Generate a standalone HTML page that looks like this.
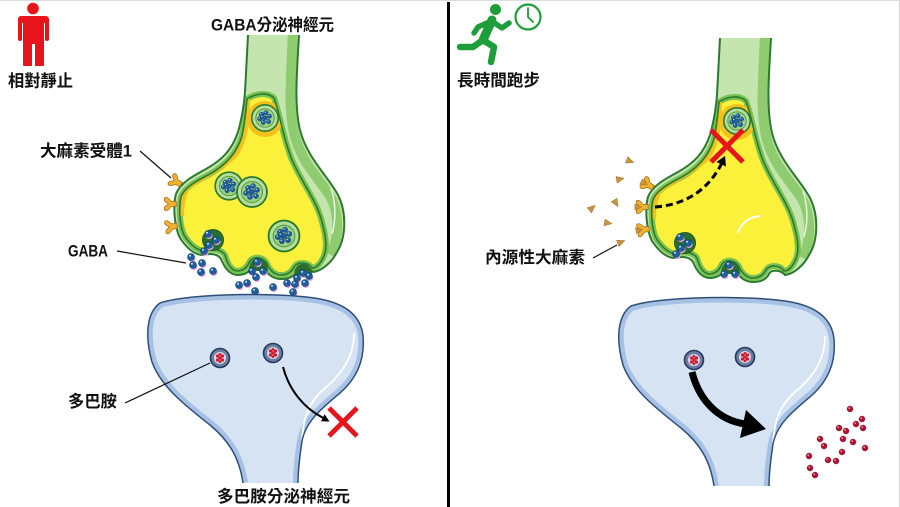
<!DOCTYPE html>
<html><head><meta charset="utf-8">
<style>
html,body{margin:0;padding:0;background:#fff;}
svg{display:block;}
text{font-family:"Liberation Sans","Noto Sans CJK TC","Noto Sans CJK SC",sans-serif;font-weight:bold;fill:#111;font-size:16.5px;}
</style></head><body>
<svg width="900" height="507" viewBox="0 0 900 507" xmlns="http://www.w3.org/2000/svg">
<defs>
  <clipPath id="cOuter" clipPathUnits="userSpaceOnUse">
    <path d="M248,35 L299,35 C297,70 294,105 300,130 C307,158 328,176 338,195 C347,213 346,238 337,252 C332,262 322,271 313,272 C309,267 299,266 297,271 C294,277 288,279 281,279 C274,279 268,275 265,269 C262,262 255,261 252,267 C249,273 243,275 237,275 C228,274 224,266 221,259 C218,254 211,253 203,255 C194,255 186,247 180,238 C174,226 173,205 176,194 C180,183 193,176 206,169 C222,160 232,150 238,132 C242,118 244,105 245,92 L248,35 Z"/>
  </clipPath>
  <clipPath id="cYel" clipPathUnits="userSpaceOnUse">
    <path d="M247,99 C256,93 268,92 274,98 C280,114 283,138 292,160 C302,183 317,201 322,222 C327,240 327,250 323,258 C320,264 316,268 312,268 C308,262 298,261 294,267 C291,273 286,275 281,275 C275,275 271,271 268,266 C265,256 252,255 249,263 C246,269 242,271 237,271 C230,270 227,262 225,255 C221,249 212,248 204,251 C196,250 189,243 184,235 C179,224 179,206 181,197 C184,188 196,181 210,174 C226,165 237,153 242,136 C245,122 246,110 247,99 Z"/>
  </clipPath>
  <clipPath id="cPost" clipPathUnits="userSpaceOnUse">
    <path d="M243,483 C239,456 228,440 210,425 C186,406 161,387 152,362 C145,337 146,313 160,303 C190,293 282,292 320,299 C346,304 361,316 363,336 C365,360 357,378 340,393 C321,409 306,421 302,441 C299,461 298,471 298,483 Z"/>
  </clipPath>

  <g id="gd"><circle cx="0.9" cy="1.5" r="3.6" fill="#e7a3e3"/><circle r="3.5" fill="#1d5f9f" stroke="#0e3c6c" stroke-width="0.6"/><circle cx="-1" cy="-1.2" r="1" fill="#fff" opacity="0.8"/></g>
  <g id="sd"><circle r="2.5" fill="#1d5f9f" stroke="#0e3c6c" stroke-width="0.5"/><circle cx="-0.7" cy="-0.8" r="0.7" fill="#fff" opacity="0.8"/></g>
  <g id="ves">
    <circle r="15" fill="#b5dd9c" stroke="#2b7a2e" stroke-width="1.8"/>
    <circle r="10.5" fill="#9dd286" stroke="#4c9a3c" stroke-width="1"/>
    <use href="#sd" x="-4" y="-4"/><use href="#sd" x="1" y="-6"/><use href="#sd" x="5" y="-2"/>
    <use href="#sd" x="-6" y="1"/><use href="#sd" x="0" y="0"/><use href="#sd" x="4" y="4"/>
    <use href="#sd" x="-2" y="5"/><use href="#sd" x="-3" y="-1"/>
  </g>
  <g id="dv">
    <circle r="9.5" fill="#6a7fa3" stroke="#24395b" stroke-width="1.6"/>
    <circle r="6" fill="#d3dbea"/>
    <circle r="1.7" fill="#d2182c"/><circle cx="-2.5" cy="-2" r="1.6" fill="#d2182c"/><circle cx="2.5" cy="-2" r="1.6" fill="#d2182c"/>
    <circle cx="-2.5" cy="2" r="1.6" fill="#d2182c"/><circle cx="2.5" cy="2" r="1.6" fill="#d2182c"/><circle cx="0" cy="-3.6" r="1.4" fill="#d2182c"/><circle cx="0" cy="3.6" r="1.4" fill="#d2182c"/>
  </g>
  <g id="rd"><circle r="3" fill="#b01230" stroke="#7a0a20" stroke-width="0.4"/><circle cx="-0.8" cy="-0.9" r="0.8" fill="#f4b0b8"/></g>
  <path id="rc" d="M1,-2.2 L-3,-2.2 C-4,-2.2 -5,-5.5 -7.5,-5.5 C-9.5,-5.5 -9.5,-2.5 -7.5,-1.5 L-5.5,0 L-7.5,1.5 C-9.5,2.5 -9.5,5.5 -7.5,5.5 C-5,5.5 -4,2.2 -3,2.2 L1,2.2 Z" fill="#f0b12f" stroke="#9c6a12" stroke-width="0.6"/>
  <polygon id="tri" points="-3.5,-3.2 4,0 -3.5,3.5" fill="#c9953f" stroke="#9a6a22" stroke-width="0.5"/>

  <g id="term">
    <path d="M248,35 L299,35 C297,70 294,105 300,130 C307,158 328,176 338,195 C347,213 346,238 337,252 C332,262 322,271 313,272 C309,267 299,266 297,271 C294,277 288,279 281,279 C274,279 268,275 265,269 C262,262 255,261 252,267 C249,273 243,275 237,275 C228,274 224,266 221,259 C218,254 211,253 203,255 C194,255 186,247 180,238 C174,226 173,205 176,194 C180,183 193,176 206,169 C222,160 232,150 238,132 C242,118 244,105 245,92 L248,35 Z" fill="#c4e5ae"/>
    <path clip-path="url(#cOuter)" d="M293,30 C291,80 288,110 295,137 C303,166 323,182 332,200 C340,218 338,240 331,255" fill="none" stroke="#8fcc6f" stroke-width="10"/>
    <path clip-path="url(#cOuter)" d="M331,188 C336,203 336,220 332,234" fill="none" stroke="#e8f6df" stroke-width="1.5"/>
    <path d="M247,99 C256,93 268,92 274,98 C280,114 283,138 292,160 C302,183 317,201 322,222 C327,240 327,250 323,258 C320,264 316,268 312,268 C308,262 298,261 294,267 C291,273 286,275 281,275 C275,275 271,271 268,266 C265,256 252,255 249,263 C246,269 242,271 237,271 C230,270 227,262 225,255 C221,249 212,248 204,251 C196,250 189,243 184,235 C179,224 179,206 181,197 C184,188 196,181 210,174 C226,165 237,153 242,136 C245,122 246,110 247,99 Z" fill="#fbf03a" stroke="#79c152" stroke-width="6"/>
    <g clip-path="url(#cYel)">
      <path d="M246,97 C246,125 243,143 233,155 C220,168 200,176 186,187 C181,196 180,206 180,216" fill="none" stroke="#f3c01e" stroke-width="8"/>
      <circle cx="265" cy="119" r="18" fill="#f3c01e"/>
    </g>
    <path d="M247,99 C256,93 268,92 274,98 C280,114 283,138 292,160 C302,183 317,201 322,222 C327,240 327,250 323,258 C320,264 316,268 312,268 C308,262 298,261 294,267 C291,273 286,275 281,275 C275,275 271,271 268,266 C265,256 252,255 249,263 C246,269 242,271 237,271 C230,270 227,262 225,255 C221,249 212,248 204,251 C196,250 189,243 184,235 C179,224 179,206 181,197 C184,188 196,181 210,174 C226,165 237,153 242,136 C245,122 246,110 247,99 Z" fill="none" stroke="#2b7a2e" stroke-width="1.6"/>
    <path d="M299,35 C297,70 294,105 300,130 C307,158 328,176 338,195 C347,213 346,238 337,252 C332,262 322,271 313,272 C309,267 299,266 297,271 C294,277 288,279 281,279 C274,279 268,275 265,269 C262,262 255,261 252,267 C249,273 243,275 237,275 C228,274 224,266 221,259 C218,254 211,253 203,255 C194,255 186,247 180,238 C174,226 173,205 176,194 C180,183 193,176 206,169 C222,160 232,150 238,132 C242,118 244,105 245,92 L248,35" fill="none" stroke="#2b7a2e" stroke-width="2"/>
    <use href="#ves" transform="translate(265,118) scale(0.88)"/>
    <circle cx="213" cy="240" r="10.5" fill="#2a6e2f" stroke="#1f5a24" stroke-width="1"/>
    <path d="M249,271 C249,254 268,254 268,271 Z" fill="#2a6e2f"/>
    <use href="#gd" x="208" y="234"/><use href="#gd" x="216" y="240"/><use href="#gd" x="209" y="245"/><use href="#gd" x="204" y="251"/>
    <use href="#gd" x="257" y="262"/><use href="#gd" x="252" y="271"/><use href="#gd" x="263" y="271"/>
  </g>

  <g id="post">
    <path d="M243,483 C239,456 228,440 210,425 C186,406 161,387 152,362 C145,337 146,313 160,303 C190,293 282,292 320,299 C346,304 361,316 363,336 C365,360 357,378 340,393 C321,409 306,421 302,441 C299,461 298,471 298,483 Z" fill="#d5e3f3"/>
    <path clip-path="url(#cPost)" d="M243,483 C239,456 228,440 210,425 C186,406 161,387 152,362 C145,337 146,313 160,303 C190,293 282,292 320,299 C346,304 361,316 363,336 C365,360 357,378 340,393 C321,409 306,421 302,441 C299,461 298,471 298,483" fill="none" stroke="#a7c1e5" stroke-width="10"/>
    <path d="M354,333 C354,357 342,374 324,389 C310,401 303,416 302,442 L302,470" fill="none" stroke="#ffffff" stroke-width="1.8"/>
    <path d="M243,483 C239,456 228,440 210,425 C186,406 161,387 152,362 C145,337 146,313 160,303 C190,293 282,292 320,299 C346,304 361,316 363,336 C365,360 357,378 340,393 C321,409 306,421 302,441 C299,461 298,471 298,483" fill="none" stroke="#2d4f7a" stroke-width="1.5"/>
  </g>
</defs>

<rect x="0" y="0" width="900" height="507" fill="#fff"/>
<line x1="0" y1="0.5" x2="900" y2="0.5" stroke="#dcdcdc" stroke-width="1"/>
<line x1="899.5" y1="0" x2="899.5" y2="507" stroke="#d4d4d4" stroke-width="1"/>
<rect x="447" y="2" width="3" height="505" fill="#000"/>

<!-- ===== LEFT PANEL ===== -->
<g fill="#e8141c">
  <circle cx="33" cy="8.5" r="5.8"/>
  <path d="M21,16 L45,16 Q49,16 49,20 L49,39 Q49,41 47,41 Q45,41 45,39 L45,23 L44,23 L44,65 Q44,66 42,66 L35,66 L35,44 L32,44 L32,66 L25,66 Q23,66 23,65 L23,23 L22,23 L22,39 Q22,41 20,41 Q18,41 18,39 L18,20 Q18,16 21,16 Z"/>
</g>
<text x="8" y="86.5" textLength="65" lengthAdjust="spacingAndGlyphs">相對靜止</text>
<text x="211" y="30.5" textLength="123" lengthAdjust="spacingAndGlyphs">GABA分泌神經元</text>

<use href="#term"/>
<path d="M294,275 C294,260 312,260 312,275 Z" fill="#2a6e2f"/>
<use href="#ves" transform="translate(229,186) scale(0.92)"/>
<use href="#ves" transform="translate(252,192) scale(1.0)"/>
<use href="#ves" transform="translate(284,236) scale(1.03)"/>

<use href="#rc" transform="translate(180,184) rotate(30) scale(1.2)"/>
<use href="#rc" transform="translate(175,204) scale(1.2)"/>
<use href="#rc" transform="translate(176,226) rotate(-8) scale(1.2)"/>

<use href="#gd" x="191" y="257"/><use href="#gd" x="193" y="265"/><use href="#gd" x="202" y="263"/>
<use href="#gd" x="201" y="272"/><use href="#gd" x="213" y="271"/>
<use href="#gd" x="256" y="277"/>
<use href="#gd" x="239" y="285"/><use href="#gd" x="247" y="283"/><use href="#gd" x="255" y="291"/><use href="#gd" x="273" y="287"/>
<use href="#gd" x="303" y="273"/><use href="#gd" x="309" y="276"/><use href="#gd" x="297" y="278"/><use href="#gd" x="305" y="283"/>
<use href="#gd" x="287" y="283"/><use href="#gd" x="295" y="284"/><use href="#gd" x="293" y="292"/>

<text x="40" y="156.5" textLength="92" lengthAdjust="spacingAndGlyphs">大麻素受體1</text>
<line x1="140" y1="151" x2="171" y2="178" stroke="#111" stroke-width="1.2"/>
<text x="68" y="256.5" textLength="40" lengthAdjust="spacingAndGlyphs">GABA</text>
<line x1="117" y1="251" x2="186" y2="263" stroke="#111" stroke-width="1.2"/>

<use href="#post"/>
<use href="#dv" x="220" y="358"/>
<use href="#dv" x="273" y="353"/>
<line x1="125" y1="403" x2="210" y2="363" stroke="#111" stroke-width="1.2"/>
<text x="68" y="407" textLength="49" lengthAdjust="spacingAndGlyphs">多巴胺</text>

<path d="M283,367 C289,390 304,408 322.8,417.7" fill="none" stroke="#000" stroke-width="2"/>
<polygon points="329.5,421.5 321,421.2 324.6,414.3" fill="#000"/>
<g stroke="#e8141c" stroke-width="4.8" stroke-linecap="butt">
  <line x1="329" y1="408" x2="357" y2="436"/><line x1="357" y1="408" x2="329" y2="436"/>
</g>
<text x="217" y="502" textLength="133" lengthAdjust="spacingAndGlyphs">多巴胺分泌神經元</text>

<!-- ===== RIGHT PANEL ===== -->
<g stroke="#1e9e3a" stroke-linecap="round" stroke-linejoin="round" fill="none">
  <line x1="492" y1="20" x2="483" y2="40" stroke-width="9"/>
  <polyline points="493,22 502,28 509,23" stroke-width="5.5"/>
  <polyline points="487,23 478,27 474,33" stroke-width="5.5"/>
  <polyline points="483,40 494,47 491,62" stroke-width="6.5"/>
  <polyline points="483,40 473,47 460,47" stroke-width="6.5"/>
</g>
<circle cx="495.5" cy="9.5" r="5.5" fill="#1e9e3a"/>
<circle cx="528" cy="17" r="12.5" fill="#fff" stroke="#1e9e3a" stroke-width="2.2"/>
<polyline points="528,8 528,17 533,22" fill="none" stroke="#1e9e3a" stroke-width="1.8" stroke-linecap="round"/>
<text x="457" y="86" textLength="83" lengthAdjust="spacingAndGlyphs">長時間跑步</text>

<use href="#term" transform="translate(472,3)"/>
<path d="M738,232 C742,222 750,217 760,216" fill="none" stroke="#fff" stroke-width="2" stroke-linecap="round"/>

<g>
  <use href="#rc" transform="translate(652,187) rotate(30) scale(1.2)"/>
  <use href="#tri" transform="translate(644,183) rotate(30) scale(0.9)"/>
  <use href="#rc" transform="translate(647,207) scale(1.2)"/>
  <use href="#tri" transform="translate(638,207) scale(0.9)"/>
  <use href="#rc" transform="translate(648,229) rotate(-8) scale(1.2)"/>
  <use href="#tri" transform="translate(639,230) rotate(-8) scale(0.9)"/>
</g>
<use href="#tri" transform="translate(630,161) rotate(20)"/>
<use href="#tri" transform="translate(620,179) rotate(-10)"/>
<use href="#tri" transform="translate(616,203) rotate(60)"/>
<use href="#tri" transform="translate(592,208) rotate(-40)"/>
<use href="#tri" transform="translate(608,223) rotate(10)"/>
<use href="#tri" transform="translate(621,242) rotate(-20)"/>

<line x1="593" y1="258" x2="617" y2="245" stroke="#111" stroke-width="1.2"/>
<text x="485" y="263" textLength="100" lengthAdjust="spacingAndGlyphs">內源性大麻素</text>

<path d="M655,207 C680,205 705,195 721.4,164.1" fill="none" stroke="#000" stroke-width="3" stroke-dasharray="7,4"/>
<polygon points="725,156 726,166.5 716.5,162" fill="#000"/>
<g stroke="#e8141c" stroke-width="5">
  <line x1="711" y1="130" x2="743" y2="162"/><line x1="743" y1="130" x2="711" y2="162"/>
</g>

<use href="#post" transform="translate(471,3)"/>
<use href="#dv" x="694" y="360"/>
<use href="#dv" x="745" y="357"/>
<path d="M692,372 C699,400 718,420 745,424" fill="none" stroke="#000" stroke-width="7"/>
<polygon points="740,438 746,410 766,429" fill="#000"/>

<use href="#rd" x="850" y="409"/><use href="#rd" x="862" y="419"/><use href="#rd" x="856" y="424"/>
<use href="#rd" x="863" y="428"/><use href="#rd" x="839" y="428"/><use href="#rd" x="846" y="431"/>
<use href="#rd" x="820" y="439"/><use href="#rd" x="843" y="439"/><use href="#rd" x="853" y="442"/>
<use href="#rd" x="824" y="446"/><use href="#rd" x="865" y="448"/><use href="#rd" x="842" y="452"/>
<use href="#rd" x="809" y="456"/><use href="#rd" x="828" y="460"/><use href="#rd" x="836" y="461"/>
<use href="#rd" x="810" y="468"/><use href="#rd" x="815" y="475"/>
</svg>
</body></html>
